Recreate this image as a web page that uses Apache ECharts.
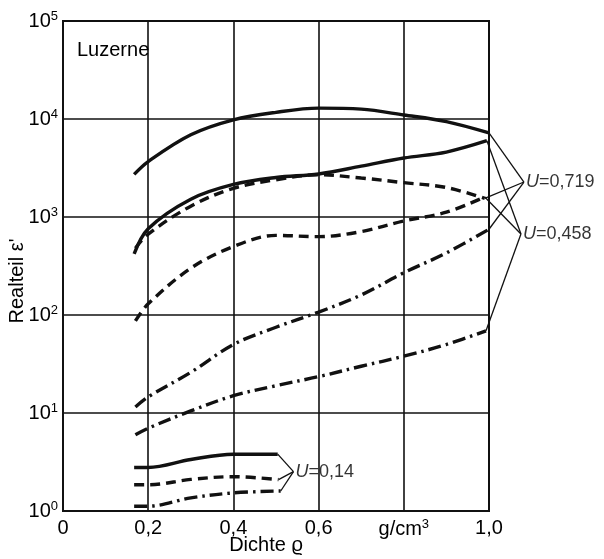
<!DOCTYPE html>
<html><head><meta charset="utf-8">
<script src="https://cdn.jsdelivr.net/npm/echarts@6/dist/echarts.min.js"></script>
<style>html,body{margin:0;padding:0;background:#fff}#c{width:604px;height:559px}</style>
</head><body><div id="c"></div>
<script>
// ---- tick labels ----
const xTicks = [0, 0.2, 0.4, 0.6, 0.8, 1.0];
const xTickLabels = ['0', '0,2', '0,4', '0,6', 'g/cm|3', '1,0'];
const yTickExponents = [0, 1, 2, 3, 4, 5];

// ---- data (density g/cm3 vs real part eps') ----
const xSolid719 = [0.167, 0.2, 0.3, 0.4, 0.5, 0.6, 0.7, 0.8, 0.9, 1.0];
const solid719  = [2720, 3680, 6900, 9800, 11700, 12900, 12600, 11000, 9400, 7200];
const xSolid458 = [0.167, 0.2, 0.3, 0.4, 0.5, 0.6, 0.7, 0.8, 0.9, 0.995];
const solid458  = [420, 760, 1520, 2150, 2530, 2750, 3300, 4000, 4600, 6000];
const xDashed719 = [0.17, 0.2, 0.3, 0.4, 0.5, 0.6, 0.7, 0.8, 0.9, 0.99];
const dashed719  = [480, 670, 1290, 1960, 2400, 2700, 2500, 2240, 2000, 1550];
const xDashed458 = [0.17, 0.2, 0.3, 0.4, 0.5, 0.6, 0.7, 0.8, 0.9, 0.99];
const dashed458  = [87, 130, 300, 500, 650, 630, 710, 910, 1120, 1600];
const xDashDot719 = [0.17, 0.2, 0.3, 0.4, 0.5, 0.6, 0.7, 0.8, 0.9, 1.0];
const dashDot719  = [11.5, 14.6, 26, 50, 75, 107, 160, 270, 430, 750];
const xDashDot458 = [0.17, 0.2, 0.3, 0.4, 0.5, 0.6, 0.7, 0.8, 0.9, 0.993];
const dashDot458  = [6.0, 7.0, 10.5, 15, 19, 23.5, 30, 38, 50, 69];
const xLow = [0.167, 0.2, 0.3, 0.4, 0.5];
const solid014   = [2.78, 2.78, 3.35, 3.8, 3.8];
const dashed014  = [1.85, 1.85, 2.1, 2.24, 2.09];
const dashDot014 = [1.12, 1.12, 1.36, 1.53, 1.6];
const xLowEnd = [0.504, 0.506, 0.511];

// label anchors (vertices of the bracket lines)
const labels = ['U=0,719', 'U=0,458', 'U=0,14'];
const labelAnchors = [[1.082, 2275], [1.075, 670], [0.541, 2.52]];

const DASH = [10, 6];
const DASHDOT = [13, 5, 2.5, 5];
const zip = (xs, ys) => xs.map((x, i) => [x, ys[i]]);

const curves = [
  { xs: xSolid719, ys: solid719, type: 'solid', group: 0 },
  { xs: xSolid458, ys: solid458, type: 'solid', group: 1 },
  { xs: xDashed719, ys: dashed719, type: DASH, group: 0 },
  { xs: xDashed458, ys: dashed458, type: DASH, group: 1 },
  { xs: xDashDot719, ys: dashDot719, type: DASHDOT, group: 0 },
  { xs: xDashDot458, ys: dashDot458, type: DASHDOT, group: 1 },
  { xs: xLow.slice(0, 4).concat([xLowEnd[0]]), ys: solid014, type: 'solid', group: 2 },
  { xs: xLow.slice(0, 4).concat([xLowEnd[1]]), ys: dashed014, type: DASH, group: 2 },
  { xs: xLow.slice(0, 4).concat([xLowEnd[2]]), ys: dashDot014, type: DASHDOT, group: 2 }
];

const series = [];
curves.forEach(c => {
  series.push({
    type: 'line', data: zip(c.xs, c.ys), showSymbol: false, smooth: 0.35,
    silent: true, lineStyle: { color: '#111', width: 3.4, type: c.type }
  });
});
// bracket (connector) lines: from each curve's last point to its label anchor
const connectorData = curves.map(c => {
  const last = [c.xs[c.xs.length - 1], c.ys[c.ys.length - 1]];
  return last.concat(labelAnchors[c.group]);
});
series.push({
  type: 'custom', clip: false, silent: true, data: connectorData,
  encode: { x: [0, 2], y: [1, 3] },
  renderItem: (params, api) => {
    const a = api.coord([api.value(0), api.value(1)]);
    const b = api.coord([api.value(2), api.value(3)]);
    return { type: 'line', shape: { x1: a[0], y1: a[1], x2: b[0], y2: b[1] },
             style: { stroke: '#111', lineWidth: 1.3 } };
  }
});
series.push({
  type: 'scatter', symbolSize: 0, clip: false, silent: true,
  data: labelAnchors.map((p, i) => ({ value: p, name: labels[i] })),
  label: {
    show: true, position: 'right', distance: 2,
    formatter: p => '{u|U}{n|' + p.name.slice(1) + '}',
    rich: {
      u: { fontSize: 18, fontStyle: 'italic', color: '#000', fontFamily: 'Liberation Sans' },
      n: { fontSize: 18, color: '#000', fontFamily: 'Liberation Sans' }
    }
  }
});

const chart = echarts.init(document.getElementById('c'));
chart.setOption({
  animation: false,
  backgroundColor: '#fff',
  textStyle: { fontFamily: 'Liberation Sans', color: '#000' },
  title: {
    text: 'Luzerne', left: 72, top: 35,
    textStyle: { fontSize: 20, fontWeight: 'normal', color: '#000', fontFamily: 'Liberation Sans' }
  },
  grid: { left: 63, right: 115, top: 21, bottom: 48, containLabel: false, outerBoundsMode: 'none',
          show: true, borderColor: '#111', borderWidth: 2, backgroundColor: 'transparent' },
  xAxis: {
    type: 'value', min: 0, max: 1, interval: 0.2,
    name: 'Dichte ϱ', nameLocation: 'middle', nameGap: 24, nameMoveOverlap: false,
    nameTextStyle: { fontSize: 20, color: '#000', padding: [0, 20, 0, 0] },
    axisLine: { lineStyle: { color: '#111', width: 2 } },
    axisTick: { show: false },
    splitLine: { show: true, lineStyle: { color: '#111', width: 1.6 } },
    axisLabel: {
      margin: 7, color: '#000', fontSize: 20,
      formatter: v => {
        let i = xTicks.findIndex(t => Math.abs(t - v) < 1e-6);
        if (i < 0) return '';
        const s = xTickLabels[i].split('|');
        return s.length > 1 ? '{b|' + s[0] + '}{s|' + s[1] + '}' : '{b|' + s[0] + '}';
      },
      rich: { b: { fontSize: 20, color: '#000' }, s: { fontSize: 13, color: '#000', padding: [0, 0, 10, 0] } }
    }
  },
  yAxis: {
    type: 'log', logBase: 10, min: 1, max: 100000,
    name: "Realteil ε'", nameLocation: 'middle', nameGap: 36, nameMoveOverlap: false,
    nameTextStyle: { fontSize: 20, color: '#000', padding: [0, 30, 0, 0] },
    axisLine: { lineStyle: { color: '#111', width: 2 } },
    axisTick: { show: false },
    splitLine: { show: true, lineStyle: { color: '#111', width: 1.6 } },
    axisLabel: {
      margin: 5, color: '#000',
      formatter: v => {
        const e = Math.round(Math.log10(v));
        if (yTickExponents.indexOf(e) < 0) return '';
        return '{b|10}{s|' + e + '}';
      },
      rich: { b: { fontSize: 20, color: '#000' }, s: { fontSize: 13, color: '#000', padding: [0, 0, 10, 0] } }
    }
  },
  series: series
});
</script>
</body></html>
